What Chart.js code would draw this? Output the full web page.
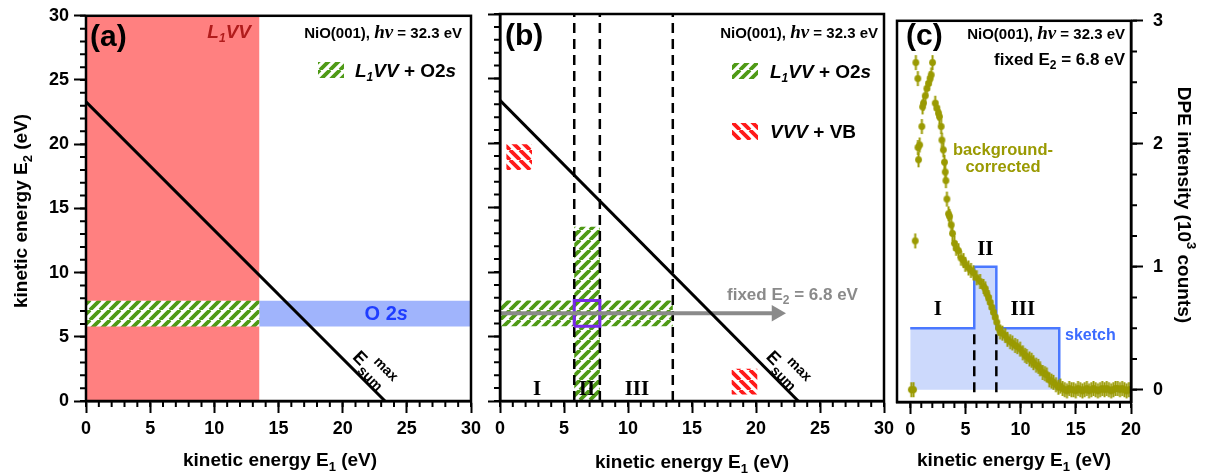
<!DOCTYPE html>
<html>
<head>
<meta charset="utf-8">
<script src="https://cdn.jsdelivr.net/npm/chart.js@4.4.0/dist/chart.umd.min.js"></script>
<style>
  html, body { margin: 0; padding: 0; background: #fff; }
  #wrap { position: relative; width: 1205px; height: 476px; }
  #wrap canvas { position: absolute; left: 0; top: 0; }
</style>
</head>
<body>
<div id="wrap">
  <canvas id="chart-a" width="1205" height="476"></canvas>
  <canvas id="chart-b" width="1205" height="476"></canvas>
  <canvas id="chart-c" width="1205" height="476"></canvas>
</div>
<script>
// ---- data (eV unless noted) ----
const esumMax = 23.3;                 // E1 + E2 upper limit
const l1vvE1 = [0, 13.5];             // L1VV region along E1
const o2sE2 = [5.8, 7.8];             // O 2s band along E2
const regionEdges = [0, 5.8, 7.8, 13.5]; // regions I, II, III on E1
const columnTopE2 = 13.5;             // top of the vertical L1VV+O2s column in (b)
const vvvBoxes = [                    // [E1 from, E1 to, E2 from, E2 to]
  [0.5, 2.5, 17.9, 19.9],
  [18.1, 20.1, 0.5, 2.5],
];
const fixedE2 = 6.8;
const arrowEndE1 = 21.6;
const sketchLevels = [0.5, 1.0, 0.5]; // 10^3 counts, regions I, II, III
const dpeE1 = [0.10, 0.30, 0.45, 0.51, 0.69, 0.70, 0.75, 0.85, 1.05, 1.12, 1.20, 1.36, 1.51, 1.66, 1.80, 1.90, 2.02,
  2.26, 2.41, 2.56, 2.65, 2.80, 2.87, 3.00, 3.10, 3.17, 3.23, 3.32, 3.47, 3.56, 3.71, 3.83, 4.00, 4.16, 4.37,
  4.60, 4.83, 4.98, 5.28, 5.50, 5.73, 6.03, 6.33, 6.64, 6.79, 6.94, 7.10, 7.24, 7.40, 7.54, 7.70, 7.84, 8.00,
  8.14, 8.35, 8.60, 8.80, 9.05, 9.25, 9.50, 9.70, 9.95, 10.20, 10.40, 10.56, 10.80, 11.00, 11.16, 11.40, 11.60,
  11.76, 12.00, 12.20, 12.37, 12.60, 12.80, 12.97, 13.20, 13.42, 13.60, 13.80, 14.00, 14.20, 14.40, 14.60,
  14.80, 15.00, 15.20, 15.40, 15.60, 15.80, 16.00, 16.20, 16.40, 16.60, 16.80, 17.00, 17.20, 17.40, 17.60,
  17.80, 18.00, 18.20, 18.40, 18.60, 18.80, 19.00, 19.20, 19.40, 19.60, 19.80, 20.00];
const dpeCounts = [0.00, 0.00, 1.21, 2.66, 2.53, 1.97, 1.87, 1.99, 2.14, 2.30, 2.33, 2.39, 2.45, 2.49, 2.53, 2.56, 2.66,
  2.33, 2.29, 2.25, 2.22, 2.14, 2.03, 1.95, 1.85, 1.77, 1.70, 1.55, 1.43, 1.41, 1.34, 1.27, 1.19, 1.15, 1.13,
  1.07, 1.05, 1.02, 0.99, 0.97, 0.95, 0.91, 0.88, 0.84, 0.82, 0.78, 0.75, 0.71, 0.67, 0.63, 0.59, 0.55, 0.50,
  0.47, 0.46, 0.44, 0.41, 0.39, 0.38, 0.36, 0.35, 0.33, 0.30, 0.28, 0.27, 0.25, 0.24, 0.22, 0.20, 0.19,
  0.17, 0.14, 0.13, 0.12, 0.08, 0.07, 0.06, 0.04, 0.02, 0.03, 0.01, 0.00, -0.01, 0.01, 0.00,
  0.00, -0.01, 0.01, 0.00, -0.01, 0.00, 0.01, -0.01, 0.00, 0.01, 0.00, -0.01, 0.00, 0.01, 0.00,
  0.01, 0.00, -0.01, 0.00, 0.01, 0.01, 0.00, 0.01, 0.00, -0.01, 0.00, 0.00];

// ---- look ----
const SANS = 'Arial, "Liberation Sans", sans-serif';
const SERIF = '"Times New Roman", "Liberation Serif", serif';
const GREEN = '#4f9a16';
const RED = '#ff1a1a';
const OLIVE = '#9a9a02';
Chart.defaults.font.family = SANS;
Chart.defaults.font.weight = 'bold';
Chart.defaults.color = '#000';
Chart.defaults.animation = false;

function hatch(canvasId, color, dir) {
  const s = 10;
  const tile = document.createElement('canvas');
  tile.width = tile.height = s;
  const g = tile.getContext('2d');
  g.fillStyle = '#fff';
  g.fillRect(0, 0, s, s);
  g.strokeStyle = color;
  g.lineWidth = 3.8;
  g.beginPath();
  for (let k = -1; k <= 1; k++) {
    if (dir > 0) { g.moveTo(k * s, s); g.lineTo(k * s + s, 0); }
    else { g.moveTo(k * s, 0); g.lineTo(k * s + s, s); }
  }
  g.stroke();
  return document.getElementById(canvasId).getContext('2d').createPattern(tile, 'repeat');
}

function rect(x0, x1, y0, y1) {
  return [{x: x0, y: y0}, {x: x1, y: y0}, {x: x1, y: y1}, {x: x0, y: y1}, {x: x0, y: y0}];
}
function area(points, fill, order) {
  return {data: points, fill: 'shape', backgroundColor: fill, borderWidth: 0,
    borderColor: 'rgba(0,0,0,0)', pointRadius: 0, order};
}
function stroke(points, color, width, order, dash) {
  return {data: points, fill: false, borderColor: color, borderWidth: width, pointRadius: 0,
    borderDash: dash || [], order};
}

// rich text: parts = [text, font, dy, color]
function rich(ctx, x, y, parts, align, color) {
  ctx.textAlign = 'left';
  ctx.textBaseline = 'alphabetic';
  let w = 0;
  parts.forEach(p => { ctx.font = p[1]; w += ctx.measureText(p[0]).width; });
  let cx = align === 'right' ? x - w : align === 'center' ? x - w / 2 : x;
  parts.forEach(p => {
    ctx.font = p[1];
    ctx.fillStyle = p[3] || color || '#000';
    ctx.fillText(p[0], cx, y + (p[2] || 0));
    cx += ctx.measureText(p[0]).width;
  });
}
const B = n => 'bold ' + n + 'px ' + SANS;
const BI = n => 'italic bold ' + n + 'px ' + SANS;

function nioLabel(ctx, right, base) {
  rich(ctx, right, base, [['NiO(001), ', B(15)], ['h\u03bd', 'italic bold 19px ' + SERIF], [' = 32.3 eV', B(15)]], 'right');
}
function l1vvO2s(ctx, left, base) {
  rich(ctx, left, base, [['L', BI(19)], ['1', BI(12), 4], ['VV', BI(19)], [' + O2', B(19)], ['s', BI(19)]], 'left');
}
function xTitle(ctx, cx, base) {
  rich(ctx, cx, base, [['kinetic energy E', B(19)], ['1', B(13), 5], [' (eV)', B(19)]], 'center');
}
function drawEsum(ctx, x, y) {
  const e1 = 20.33;
  const ang = Math.atan2(y.getPixelForValue(0) - y.getPixelForValue(esumMax),
    x.getPixelForValue(esumMax) - x.getPixelForValue(0));
  ctx.save();
  ctx.translate(x.getPixelForValue(e1), y.getPixelForValue(esumMax - e1));
  ctx.rotate(ang);
  ctx.fillStyle = '#000';
  ctx.textAlign = 'left';
  ctx.textBaseline = 'alphabetic';
  ctx.font = B(18);
  ctx.fillText('E', 0, -7);
  const w = ctx.measureText('E').width;
  ctx.font = B(14);
  ctx.fillText('sum', w + 1, -1);
  ctx.fillText('max', w + 6, -19);
  ctx.restore();
}
function swatch(ctx, fill, x, y, w, h) {
  ctx.fillStyle = fill;
  ctx.fillRect(x, y, w, h);
}

// frame + minor ticks
function framePlugin(xMinor, yMinor, ySide) {
  return {
    id: 'frame',
    afterDraw(chart) {
      const {ctx, chartArea: ca, scales} = chart;
      ctx.save();
      ctx.strokeStyle = '#000';
      ctx.lineWidth = 2;
      ctx.beginPath();
      const ticks = (scale, range, draw) => {
        const n = Math.round((range[1] - range[0]) / range[2]);
        for (let i = 0; i <= n; i++) draw(scale.getPixelForValue(range[0] + i * range[2]));
      };
      ticks(scales.x, xMinor, px => { ctx.moveTo(px, ca.bottom); ctx.lineTo(px, ca.bottom + 6); });
      ticks(scales.y, yMinor, py => {
        if (ySide === 'right') { ctx.moveTo(ca.right, py); ctx.lineTo(ca.right + 6, py); }
        else { ctx.moveTo(ca.left, py); ctx.lineTo(ca.left - 6, py); }
      });
      ctx.stroke();
      ctx.lineWidth = 2.5;
      ctx.strokeRect(ca.left, ca.top, ca.right - ca.left, ca.bottom - ca.top);
      ctx.restore();
    }
  };
}

function axis(extra) {
  return Object.assign({
    type: 'linear',
    ticks: {stepSize: 5, font: {size: 18, weight: 'bold'}, color: '#000', padding: 5, maxRotation: 0,
      includeBounds: false},
    grid: {drawOnChartArea: false, drawTicks: true, tickLength: 12, tickWidth: 2, tickColor: '#000'},
    border: {display: true, color: '#000', width: 2.5},
  }, extra);
}
const baseOptions = (padding, scales) => ({
  responsive: false,
  events: [],
  layout: {padding, autoPadding: false},
  plugins: {legend: {display: false}, tooltip: {enabled: false}},
  scales,
});

// ---------- panel (a) ----------
const greenA = hatch('chart-a', GREEN, 1);
new Chart(document.getElementById('chart-a'), {
  type: 'line',
  data: {datasets: [
    stroke([{x: 0, y: esumMax}, {x: esumMax, y: 0}], '#000', 3, 0),
    area(rect(l1vvE1[0], l1vvE1[1], o2sE2[0], o2sE2[1]), greenA, 1),
    area(rect(l1vvE1[1], 30, o2sE2[0], o2sE2[1]), 'rgb(160,180,252)', 2),
    area(rect(l1vvE1[0], l1vvE1[1], 0, 30), 'rgb(255,128,128)', 3),
  ]},
  options: baseOptions({left: 0, top: 14, right: 1205 - 471, bottom: 0}, {
    x: axis({position: 'bottom', min: 0, max: 30, afterFit: s => { s.height = 75; }}),
    y: axis({position: 'left', min: 0, max: 30, afterFit: s => { s.width = 86; }}),
  }),
  plugins: [framePlugin([0, 30, 1], [0, 30, 1], 'left'), {
    id: 'textA',
    afterDraw(chart) {
      const {ctx, scales: {x, y}} = chart;
      ctx.save();
      rich(ctx, 90, 46, [['(a)', B(30)]], 'left');
      rich(ctx, 251, 38, [['L', BI(19)], ['1', BI(12), 4], ['VV', BI(19)]], 'right', '#b11c1c');
      nioLabel(ctx, 462, 38);
      swatch(ctx, greenA, 318, 62, 26, 16);
      l1vvO2s(ctx, 355, 77);
      rich(ctx, x.getPixelForValue(23.4), 320, [['O 2', B(20)], ['s', BI(20)]], 'center', '#1f3dff');
      drawEsum(ctx, x, y);
      xTitle(ctx, 280, 466);
      ctx.translate(27, 211);
      ctx.rotate(-Math.PI / 2);
      rich(ctx, 0, 0, [['kinetic energy E', B(19)], ['2', B(13), 5], [' (eV)', B(19)]], 'center');
      ctx.restore();
    }
  }]
});

// ---------- panel (b) ----------
const greenB = hatch('chart-b', GREEN, 1);
const redB = hatch('chart-b', RED, -1);
const dashLinesB = regionEdges.slice(1).map(e => stroke([{x: e, y: 0}, {x: e, y: 30}], '#000', 2.5, 1, [10, 6]));
new Chart(document.getElementById('chart-b'), {
  type: 'line',
  data: {datasets: [
    stroke([{x: 0, y: esumMax}, {x: esumMax, y: 0}], '#000', 3, 0),
    {data: [{x: 0, y: fixedE2}, {x: arrowEndE1, y: fixedE2}], fill: false, borderColor: '#8a8a8a',
      borderWidth: 4, pointStyle: 'triangle', rotation: 90, pointBackgroundColor: '#8a8a8a',
      pointBorderWidth: 0, pointRadius: c => (c.dataIndex === 1 ? 9.5 : 0), order: 0},
    stroke(rect(regionEdges[1], regionEdges[2], o2sE2[0], o2sE2[1]), 'rgb(120,40,235)', 3, 1),
    ...dashLinesB,
    area(rect(regionEdges[0], regionEdges[3], o2sE2[0], o2sE2[1]), greenB, 2),
    area(rect(regionEdges[1], regionEdges[2], 0, columnTopE2), greenB, 2),
    ...vvvBoxes.map(b => area(rect(b[0], b[1], b[2], b[3]), redB, 2)),
  ]},
  options: baseOptions({left: 490, top: 14, right: 1205 - 884, bottom: 0}, {
    x: axis({position: 'bottom', min: 0, max: 30, afterFit: s => { s.height = 75; }}),
    y: axis({position: 'left', min: 0, max: 30, ticks: {display: false, stepSize: 5},
      afterFit: s => { s.width = 10; }}),
  }),
  plugins: [framePlugin([0, 30, 1], [0, 30, 1], 'left'), {
    id: 'textB',
    afterDraw(chart) {
      const {ctx, scales: {x, y}} = chart;
      ctx.save();
      rich(ctx, 505, 45, [['(b)', B(30)]], 'left');
      nioLabel(ctx, 878, 38);
      swatch(ctx, greenB, 732, 63, 26, 16);
      l1vvO2s(ctx, 770, 78);
      swatch(ctx, redB, 732, 123, 26, 17);
      rich(ctx, 770, 138, [['VVV', BI(19)], [' + VB', B(19)]], 'left');
      rich(ctx, 727, 300, [['fixed E', B(17)], ['2', B(12), 4], [' = 6.8 eV', B(17)]], 'left', '#8a8a8a');
      const rf = 'bold 21px ' + SERIF;
      rich(ctx, x.getPixelForValue(2.9), 395, [['I', rf]], 'center');
      rich(ctx, x.getPixelForValue(6.8), 395, [['II', rf]], 'center');
      rich(ctx, x.getPixelForValue(10.7), 395, [['III', rf]], 'center');
      drawEsum(ctx, x, y);
      xTitle(ctx, 692, 468);
      ctx.restore();
    }
  }]
});

// ---------- panel (c) ----------
const dot = document.createElement('canvas');
dot.width = 9; dot.height = 17;
(g => {
  g.fillStyle = OLIVE; g.strokeStyle = OLIVE; g.lineWidth = 2;
  g.beginPath(); g.arc(4.5, 8.5, 3.4, 0, Math.PI * 2); g.fill();
  g.beginPath(); g.moveTo(4.5, 1); g.lineTo(4.5, 16); g.stroke();
})(dot.getContext('2d'));

const sketchPts = [{x: regionEdges[0], y: sketchLevels[0]}];
sketchLevels.forEach((lv, i) => {
  sketchPts.push({x: regionEdges[i + 1], y: lv});
  if (i + 1 < sketchLevels.length) sketchPts.push({x: regionEdges[i + 1], y: sketchLevels[i + 1]});
});
sketchPts.push({x: regionEdges[regionEdges.length - 1], y: 0});

const keepMajor = step => s => { s.ticks = s.ticks.filter(t => t.value >= 0 && Math.abs(t.value / step - Math.round(t.value / step)) < 1e-6); };
new Chart(document.getElementById('chart-c'), {
  type: 'line',
  data: {datasets: [
    {data: dpeE1.map((e, i) => ({x: e, y: dpeCounts[i]})), showLine: false, pointStyle: dot,
      pointRadius: 4, order: 0},
    ...regionEdges.slice(1, 3).map(e => stroke([{x: e, y: -0.02}, {x: e, y: sketchLevels[0]}], '#000', 2.5, 1, [10, 6])),
    {data: sketchPts, fill: 'origin', backgroundColor: 'rgba(100,140,245,0.33)', borderColor: '#4a78ff',
      borderWidth: 2.5, pointRadius: 0, order: 2},
  ]},
  options: baseOptions({left: 897, top: 14, right: 0, bottom: 0}, {
    x: axis({position: 'bottom', min: -1.2, max: 20, afterBuildTicks: keepMajor(5),
      afterFit: s => { s.height = 74; }}),
    y: axis({position: 'right', min: -0.1, max: 3, ticks: {stepSize: 1, font: {size: 18, weight: 'bold'},
      color: '#000', padding: 10, includeBounds: false}, afterBuildTicks: keepMajor(1),
      afterFit: s => { s.width = 74; }}),
  }),
  plugins: [framePlugin([0, 20, 1], [0, 3, 0.25], 'right'), {
    id: 'textC',
    afterDraw(chart) {
      const {ctx, scales: {x}} = chart;
      ctx.save();
      rich(ctx, 906, 45, [['(c)', B(30)]], 'left');
      nioLabel(ctx, 1125, 39);
      rich(ctx, 1125, 65, [['fixed E', B(17)], ['2', B(12), 4], [' = 6.8 eV', B(17)]], 'right');
      rich(ctx, 1003, 155, [['background-', B(16.5)]], 'center', OLIVE);
      rich(ctx, 1003, 172, [['corrected', B(16.5)]], 'center', OLIVE);
      const rf = 'bold 21px ' + SERIF;
      rich(ctx, x.getPixelForValue(2.5), 315, [['I', rf]], 'center');
      rich(ctx, x.getPixelForValue(6.8), 255, [['II', rf]], 'center');
      rich(ctx, x.getPixelForValue(10.2), 315, [['III', rf]], 'center');
      rich(ctx, 1065, 340, [['sketch', B(16)]], 'left', '#3c6cff');
      xTitle(ctx, 1014, 466);
      ctx.translate(1178, 205);
      ctx.rotate(Math.PI / 2);
      rich(ctx, 0, 0, [['DPE intensity (10', B(19)], ['3', B(13), -9], [' counts)', B(19)]], 'center');
      ctx.restore();
    }
  }]
});
</script>
</body>
</html>
